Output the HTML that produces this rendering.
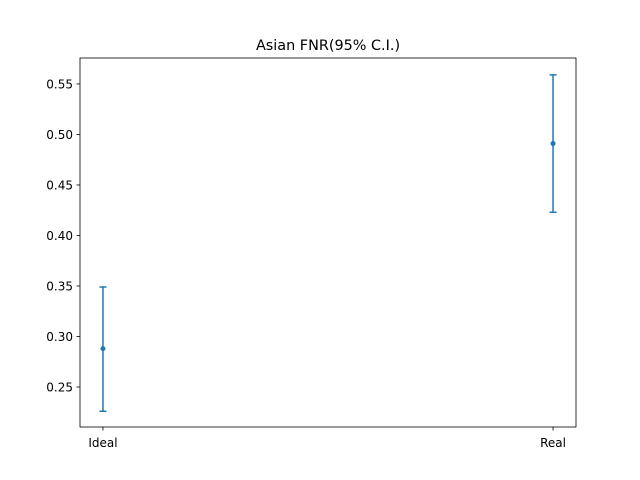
<!DOCTYPE html>
<html><head><meta charset="utf-8"><style>
body{margin:0;background:#fff;}
svg{display:block;font-family:"DejaVu Sans","Liberation Sans",sans-serif;}
</style></head><body>
<svg id="chart" width="640" height="480">
<rect x="0" y="0" width="640" height="480" fill="#fff"/>
<text x="328" y="50" text-anchor="middle" font-size="14.4">Asian FNR(95% C.I.)</text>
<g id="marks"></g>
<g id="yaxis"></g>
<g id="xaxis"></g>
<rect x="80" y="58" width="496" height="369" fill="none" stroke="#000" stroke-width="0.8"/>
</svg>
<script>
const categories = ["Ideal", "Real"];
const means = [0.288, 0.491];
const lowers = [0.226, 0.423];
const uppers = [0.349, 0.559];
const yTicks = [0.25, 0.30, 0.35, 0.40, 0.45, 0.50, 0.55];
const yTickLabels = ["0.25", "0.30", "0.35", "0.40", "0.45", "0.50", "0.55"];

const ns = "http://www.w3.org/2000/svg";
const L = 80, R = 576, T = 58, B = 427;
const xMin = -0.051, xMax = 1.051, yMin = 0.2104, yMax = 0.5757;
function xs(i){ return L + (i - xMin) / (xMax - xMin) * (R - L); }
function ys(v){ return B - (v - yMin) / (yMax - yMin) * (B - T); }
function mk(tag, attrs, parent){ const e = document.createElementNS(ns, tag); for (const k in attrs) e.setAttribute(k, attrs[k]); parent.appendChild(e); return e; }

const yaxis = document.getElementById('yaxis');
yTicks.forEach((v, i) => {
  const y = ys(v);
  const t = mk('line', {x1: L - 3.5, x2: L, y1: y, y2: y, stroke: '#000', 'stroke-width': 0.8}, yaxis);
  
  
  const tx = mk('text', {x: L - 7, y: y + 4.5, 'text-anchor': 'end', 'font-size': 12}, yaxis);
  tx.textContent = yTickLabels[i];
  
  
});
const xaxis = document.getElementById('xaxis');
categories.forEach((c, i) => {
  const x = xs(i);
  const t = mk('line', {x1: x, x2: x, y1: B, y2: B + 3.5, stroke: '#000', 'stroke-width': 0.8}, xaxis);
  
  
  const tx = mk('text', {x: x, y: B + 20, 'text-anchor': 'middle', 'font-size': 12}, xaxis);
  tx.textContent = c;
  
  
});
const marks = document.getElementById('marks');
const col = '#1f77b4';
categories.forEach((c, i) => {
  const x = xs(i);
  const bar = mk('line', {x1: x, x2: x, y1: ys(lowers[i]), y2: ys(uppers[i]), stroke: col, 'stroke-width': 1.5}, marks);
  
  
  [lowers[i], uppers[i]].forEach(v => {
    const cap = mk('line', {x1: x - 3.5, x2: x + 3.5, y1: ys(v), y2: ys(v), stroke: col, 'stroke-width': 1.5}, marks);
    
    
  });
  const p = mk('circle', {cx: x, cy: ys(means[i]), r: 2.5, fill: col}, marks);
  
  
});
</script>
</body></html>
